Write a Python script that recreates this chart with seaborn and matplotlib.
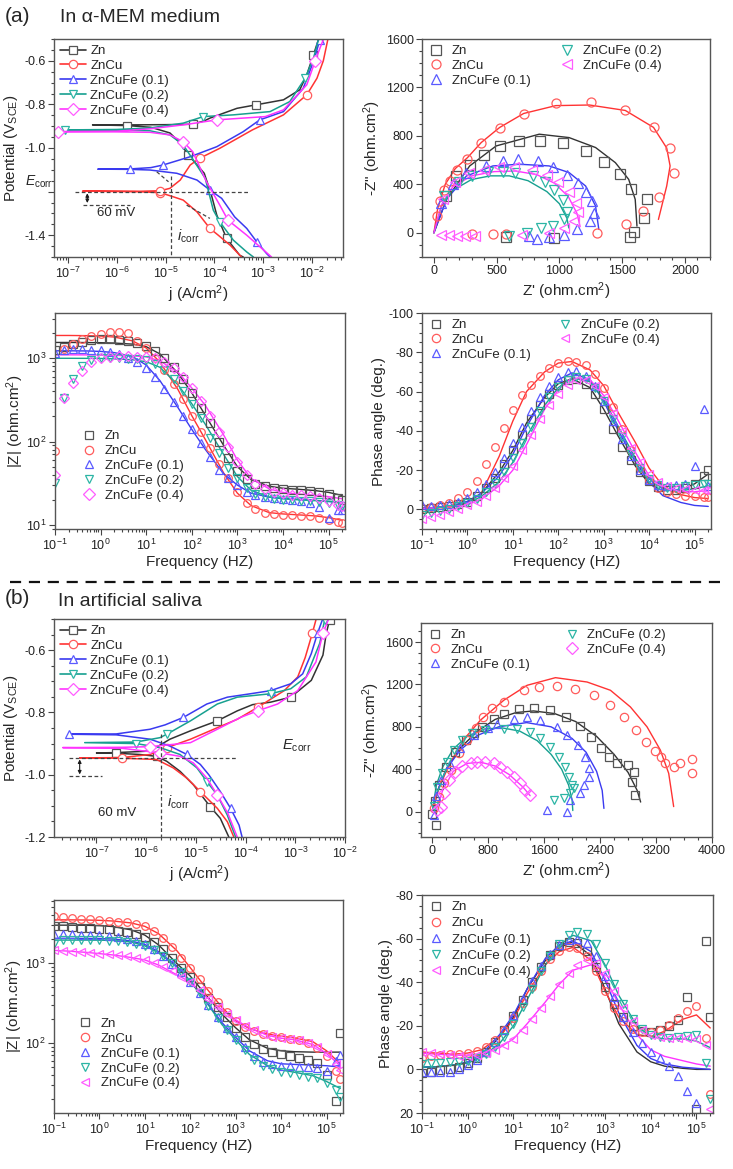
import numpy as np
import pandas as pd
import matplotlib
matplotlib.use("Agg")
import matplotlib.pyplot as plt
from matplotlib.lines import Line2D
from matplotlib.ticker import (LogLocator, MultipleLocator, NullFormatter, FixedLocator,
                               FixedFormatter, LogFormatterSciNotation)
import seaborn as sns

sns.set_theme(style="ticks")
plt.rcParams["font.family"] = ["Liberation Sans", "DejaVu Sans"]
plt.rcParams["mathtext.fontset"] = "custom"
plt.rcParams["mathtext.rm"] = "Liberation Sans"
plt.rcParams["mathtext.it"] = "Liberation Sans:italic"
plt.rcParams["mathtext.default"] = "regular"
plt.rcParams["axes.unicode_minus"] = False

names = ["Zn", "ZnCu", "ZnCuFe (0.1)", "ZnCuFe (0.2)", "ZnCuFe (0.4)"]
line_cols = ["#333333", "#ff3333", "#3a3af0", "#17a090", "#ff33ff"]
mark_cols = ["#555555", "#ff5c5c", "#5a5aff", "#2cb5a5", "#ff5cff"]

# ---------------- polarization, alpha-MEM (j in A/cm2, E in V) ----------------
pa_zn_j = [3.9e-4, 3.3e-4, 1.78e-4, 1.12e-4, 8.7e-5, 6.2e-5, 2.95e-5, 1.82e-5, 1.23e-5, 5e-6, 1.6e-6, 3.2e-7,
           1.6e-6, 1e-5, 3.6e-5, 6.3e-5, 8.1e-5, 2.9e-4, 7.1e-4, 2.6e-3, 5.6e-3, 7.8e-3, 1.07e-2, 1.35e-2]
pa_zn_e = [-1.5, -1.492, -1.415, -1.308, -1.216, -1.116, -1.032, -0.968, -0.931, -0.905, -0.897, -0.894,
           -0.894, -0.893, -0.891, -0.875, -0.863, -0.818, -0.802, -0.779, -0.733, -0.664, -0.572, -0.503]
pa_cu_j = [3.6e-4, 2.1e-4, 1.2e-4, 8.1e-5, 4.4e-5, 2.3e-5, 1.45e-5, 7.8e-6, 2.5e-6, 2e-7,
           2.5e-6, 7.8e-6, 1.23e-5, 2e-5, 3.2e-5, 5e-5, 1.3e-4, 6e-4, 2.6e-3, 7.8e-3, 1.26e-2, 1.7e-2, 2.1e-2]
pa_cu_e = [-1.5, -1.446, -1.40, -1.369, -1.293, -1.239, -1.224, -1.205, -1.2, -1.198,
           -1.199, -1.196, -1.185, -1.147, -1.078, -1.047, -1.001, -0.917, -0.848, -0.756, -0.680, -0.60, -0.503]
pa_f1_j = [1.38e-3, 1.17e-3, 7.4e-4, 4.6e-4, 2.6e-4, 1.41e-4, 8.1e-5, 4.4e-5, 1.7e-5, 4.8e-6, 1.9e-6, 4.1e-7,
           1.9e-6, 5e-6, 8.9e-6, 3.2e-5, 1.12e-4, 3.9e-4, 8.5e-4, 2.6e-3, 6.6e-3, 1.07e-2, 1.45e-2]
pa_f1_e = [-1.5, -1.484, -1.431, -1.369, -1.316, -1.231, -1.193, -1.147, -1.116, -1.101, -1.098, -1.097,
           -1.096, -1.09, -1.078, -1.04, -0.994, -0.925, -0.871, -0.833, -0.726, -0.603, -0.503]
pa_f2_j = [6.3e-4, 4.6e-4, 2.45e-4, 1.29e-4, 9.5e-5, 6.5e-5, 3.7e-5, 2.3e-5, 1.23e-5, 4.8e-6, 1e-6, 8.7e-8,
           1e-6, 4.8e-6, 2.3e-5, 5.9e-5, 2.45e-4, 1.38e-3, 3.5e-3, 7.2e-3, 1.07e-2, 1.35e-2]
pa_f2_e = [-1.5, -1.477, -1.423, -1.339, -1.285, -1.139, -1.055, -0.986, -0.940, -0.921, -0.918, -0.917,
           -0.915, -0.908, -0.886, -0.856, -0.848, -0.833, -0.787, -0.680, -0.588, -0.503]
pa_f4_j = [1.48e-3, 4.6e-4, 1.9e-4, 1.29e-4, 6.9e-5, 3.6e-5, 2.3e-5, 1.23e-5, 4.8e-6, 1e-6, 6.3e-8,
           1e-6, 4.8e-6, 2.3e-5, 1.12e-4, 1.1e-3, 2.6e-3, 7.8e-3, 1.15e-2, 1.45e-2, 1.7e-2]
pa_f4_e = [-1.5, -1.40, -1.331, -1.262, -1.155, -1.017, -0.971, -0.940, -0.928, -0.926, -0.925,
           -0.923, -0.912, -0.894, -0.871, -0.856, -0.825, -0.710, -0.603, -0.542, -0.503]

# ---------------- polarization, artificial saliva ----------------
pb_zn_j = [4.6e-5, 3.1e-5, 1.95e-5, 8.9e-6, 4.8e-6, 2.6e-6, 1.62e-6, 7.4e-7, 2.5e-7, 1e-7,
           2.5e-7, 1.2e-6, 3e-6, 7.8e-6, 2.7e-5, 6.8e-5, 1.38e-4, 3.2e-4, 8.1e-4, 2.1e-3, 3.6e-3, 4.2e-3, 4.9e-3]
pb_zn_e = [-1.2, -1.140, -1.103, -1.032, -0.989, -0.957, -0.941, -0.935, -0.931, -0.930,
           -0.929, -0.924, -0.886, -0.859, -0.827, -0.795, -0.775, -0.767, -0.751, -0.697, -0.616, -0.546, -0.503]
pb_cu_j = [5.8e-5, 4.3e-5, 2.7e-5, 1.23e-5, 6.6e-6, 3.5e-6, 1.62e-6, 3.2e-7, 4.6e-8,
           3.2e-7, 1.2e-6, 2.6e-6, 7.8e-6, 2.7e-5, 6.8e-5, 1.74e-4, 6e-4, 1.12e-3, 1.58e-3, 2.2e-3, 2.6e-3]
pb_cu_e = [-1.2, -1.151, -1.108, -1.054, -1.011, -0.978, -0.951, -0.947, -0.946,
           -0.945, -0.935, -0.913, -0.886, -0.849, -0.822, -0.784, -0.730, -0.686, -0.624, -0.546, -0.503]
pb_f1_j = [8.5e-5, 7.4e-5, 5e-5, 3.1e-5, 1.82e-5, 1.23e-5, 6.6e-6, 3e-6, 1.2e-6, 2.5e-7, 2.8e-8,
           2.5e-7, 1.2e-6, 2.4e-6, 5.6e-6, 1.66e-5, 4.3e-5, 1.26e-4, 3.2e-4, 8.1e-4, 1.41e-3, 2.1e-3, 2.8e-3, 3.5e-3]
pb_f1_e = [-1.2, -1.162, -1.108, -1.054, -1.0, -0.967, -0.935, -0.908, -0.886, -0.872, -0.870,
           -0.869, -0.854, -0.840, -0.816, -0.773, -0.751, -0.740, -0.730, -0.708, -0.676, -0.611, -0.546, -0.503]
pb_f2_j = [6.3e-5, 4.3e-5, 2.7e-5, 1.66e-5, 1.05e-5, 4.8e-6, 1.9e-6, 6.3e-7, 5.8e-8,
           6.3e-7, 1.9e-6, 2.6e-6, 7.8e-6, 2.7e-5, 6.8e-5, 3.2e-4, 8.1e-4, 1.66e-3, 3.1e-3, 3.9e-3]
pb_f2_e = [-1.2, -1.130, -1.065, -1.022, -0.978, -0.935, -0.913, -0.900, -0.897,
           -0.895, -0.881, -0.870, -0.827, -0.773, -0.751, -0.740, -0.724, -0.686, -0.578, -0.503]
pb_f4_j = [6.8e-5, 4.4e-5, 2.7e-5, 1.66e-5, 8.9e-6, 4.8e-6, 1.9e-6, 3.2e-7, 2.1e-8,
           3.2e-7, 1.2e-6, 7.8e-6, 2.7e-5, 7.9e-5, 1.74e-4, 4.4e-4, 1.12e-3, 2.6e-3, 3.6e-3, 4.6e-3]
pb_f4_e = [-1.2, -1.124, -1.065, -1.011, -0.962, -0.941, -0.930, -0.915, -0.913,
           -0.912, -0.910, -0.897, -0.854, -0.816, -0.795, -0.773, -0.730, -0.638, -0.546, -0.503]

# ---------------- Nyquist, alpha-MEM (ohm.cm2) ----------------
na_zn_re = [100, 179, 285, 396, 523, 676, 844, 1032, 1209, 1359, 1486, 1570, 1697, 1671, 1597, 1565, 958, 575]
na_zn_im = [303, 469, 560, 643, 717, 759, 759, 745, 676, 588, 483, 359, 276, 124, 8, -33, -41, -33]
na_cu_re = [21, 48, 80, 127, 180, 267, 377, 523, 715, 971, 1248, 1525, 1750, 1882, 1916, 1797, 1665, 1533, 1296, 575, 470, 303]
na_cu_im = [138, 262, 350, 428, 520, 612, 745, 869, 979, 1070, 1076, 1015, 875, 698, 497, 295, 177, 74, 0, -14, -8, -8]
na_f1_re = [60, 150, 259, 417, 549, 668, 827, 945, 1064, 1148, 1209, 1262, 1272, 1240, 1140, 1040, 920, 820, 760]
na_f1_im = [250, 400, 497, 552, 590, 610, 590, 545, 480, 414, 337, 262, 165, 95, 30, -15, -33, -50, -30]
na_f2_re = [80, 200, 300, 430, 550, 650, 786, 886, 958, 1030, 1064, 1040, 946, 850, 742, 600]
na_f2_im = [300, 420, 470, 500, 505, 497, 470, 420, 350, 270, 170, 110, 55, 40, 0, -25]
na_f4_re = [70, 170, 280, 400, 520, 640, 780, 900, 990, 1080, 1130, 1150, 1120, 1040, 920, 700, 330, 250, 180, 120, 60]
na_f4_im = [280, 420, 490, 520, 540, 540, 520, 480, 420, 340, 250, 170, 100, 40, 0, -20, -30, -30, -25, -20, -15]
# fitted curves
naf_zn_re = [0, 100, 285, 496, 839, 1077, 1288, 1446, 1552, 1604, 1618]
naf_zn_im = [0, 276, 552, 717, 814, 786, 704, 579, 441, 276, 55]
naf_cu_re = [0, 30, 90, 170, 267, 377, 523, 715, 971, 1240, 1525, 1750, 1855, 1882, 1855, 1789]
naf_cu_im = [0, 200, 400, 530, 620, 745, 869, 985, 1050, 1055, 1010, 870, 700, 552, 386, 110]
naf_f1_re = [0, 100, 259, 470, 681, 918, 1077, 1209, 1288, 1314]
naf_f1_im = [0, 276, 469, 552, 566, 552, 497, 386, 221, 28]
naf_f2_re = [0, 60, 150, 300, 450, 600, 750, 900, 1000, 1060, 1075]
naf_f2_im = [0, 220, 350, 440, 470, 470, 430, 340, 240, 120, 40]
naf_f4_re = [0, 60, 150, 300, 480, 650, 820, 960, 1070, 1140, 1165]
naf_f4_im = [0, 230, 380, 470, 505, 510, 480, 410, 300, 160, 50]

# ---------------- Nyquist, artificial saliva ----------------
nb_zn_re = [0, 40, 100, 200, 330, 480, 600, 714, 890, 1024, 1238, 1452, 1690, 1919, 2110, 2276, 2419, 2533, 2643, 2795, 2881, 2857, 2905, 50]
nb_zn_im = [-20, 100, 250, 420, 560, 680, 740, 800, 878, 925, 966, 979, 957, 894, 809, 706, 596, 518, 461, 439, 376, 282, 157, -130]
nb_cu_re = [30, 95, 167, 262, 381, 500, 620, 729, 850, 1024, 1310, 1524, 1786, 2048, 2310, 2548, 2748, 2919, 3057, 3191, 3276, 3333, 3462, 3548, 3714, 3714]
nb_cu_im = [30, 141, 267, 392, 549, 675, 790, 888, 980, 1035, 1145, 1176, 1183, 1161, 1098, 1004, 894, 769, 659, 574, 518, 461, 424, 461, 496, 361]
nb_f1_re = [20, 60, 130, 250, 400, 600, 800, 929, 1167, 1357, 1548, 1786, 1929, 2081, 2190, 2238, 2238, 2167, 2119, 1976, 1929, 1643]
nb_f1_im = [-30, 150, 300, 450, 600, 720, 790, 831, 878, 888, 863, 800, 722, 627, 518, 408, 329, 251, 173, 110, 0, 16]
nb_f2_re = [20, 71, 143, 214, 310, 429, 571, 762, 1024, 1214, 1395, 1548, 1690, 1810, 1905, 1962, 2000, 2024, 1976, 1881, 1738]
nb_f2_im = [50, 235, 361, 470, 580, 674, 737, 769, 784, 784, 753, 690, 612, 518, 424, 329, 251, 220, 173, 125, 110]
nb_f4_re = [71, 119, 167, 238, 333, 429, 548, 643, 762, 881, 976, 1071, 1167, 1262, 1333, 1395]
nb_f4_im = [16, 47, 173, 298, 376, 430, 455, 471, 471, 455, 424, 376, 329, 267, 204, 157]
nbf_zn_re = [0, 80, 200, 400, 650, 900, 1200, 1450, 1750, 2050, 2350, 2600, 2800, 2930, 2980]
nbf_zn_im = [0, 200, 400, 600, 760, 870, 935, 950, 925, 850, 710, 540, 370, 200, 90]
nbf_cu_re = [0, 100, 250, 450, 690, 1024, 1357, 1762, 2214, 2548, 2833, 3071, 3262, 3381, 3452]
nbf_cu_im = [0, 230, 450, 680, 863, 1051, 1192, 1264, 1223, 1145, 988, 800, 580, 361, 47]
nbf_f1_re = [0, 80, 200, 400, 650, 950, 1350, 1700, 2000, 2200, 2350, 2430, 2455]
nbf_f1_im = [0, 200, 400, 580, 720, 800, 840, 800, 690, 560, 380, 200, 30]
nbf_f2_re = [0, 60, 150, 300, 500, 750, 1000, 1250, 1500, 1700, 1850, 1950, 2000, 2010]
nbf_f2_im = [0, 250, 420, 590, 710, 780, 790, 760, 670, 540, 400, 250, 110, 10]
nbf_f4_re = [50, 150, 300, 500, 700, 900, 1100, 1300, 1400]
nbf_f4_im = [0, 200, 380, 455, 465, 430, 350, 230, 150]

# ---------------- Bode data ----------------
freq_pts = [0.1, 0.16, 0.25, 0.4, 0.63, 1, 1.6, 2.5, 4, 6.3, 10, 16, 25, 40, 63, 100, 160, 250, 400, 630,
            1e3, 1.6e3, 2.5e3, 4e3, 6.3e3, 1e4, 1.6e4, 2.5e4, 4e4, 6.3e4, 1e5, 1.6e5, 2e5]
freq_fit = [0.1, 0.2, 0.5, 1, 2, 5, 10, 20, 50, 100, 200, 500, 1e3, 2e3, 5e3, 1e4, 2e4, 5e4, 1e5, 2e5]
freq_ticks = [1e-1, 1e0, 1e1, 1e2, 1e3, 1e4, 1e5]

# |Z| alpha-MEM
za_zn = [1250, 1380, 1500, 1580, 1640, 1690, 1700, 1680, 1620, 1530, 1400, 1230, 1010, 780, 560, 385, 255, 165, 100, 64, 44, 35, 30.5, 29, 28, 27, 26.5, 26, 25.5, 25, 23.5, 21, 20]
za_cu = [76, 1300, 1500, 1700, 1850, 1950, 2050, 2060, 2000, 1600, 1320, 1020, 730, 490, 320, 205, 130, 83, 54, 36, 25, 18.5, 15.5, 14, 13.5, 13.2, 13, 12.8, 12.6, 12.2, 11.5, 10.8, 10.5]
za_f1 = [1170, 1250, 1280, 1280, 1270, 1250, 1200, 1120, 1010, 900, 770, 590, 430, 300, 205, 140, 95, 65, 46, 36, 30, 24.5, 22.5, 21.5, 21, 20.5, 20, 19.5, 18.5, 16.5, 12, 15, 15]
za_f2 = [32, 330, 570, 800, 950, 1000, 1000, 1000, 990, 970, 950, 860, 730, 570, 410, 285, 190, 110, 72, 48, 36, 28, 23.5, 21.5, 20.5, 20, 19.8, 19.5, 19.2, 18.8, 18.3, 17.5, 17]
za_f4 = [40, 337, 510, 700, 900, 1000, 1050, 1060, 1060, 1050, 1050, 1000, 900, 760, 600, 440, 310, 205, 130, 85, 57, 40, 31, 27, 25, 24, 23, 22.5, 22, 21, 19.5, 17.5, 17]
zaf_zn = [1550, 1550, 1545, 1540, 1525, 1480, 1380, 1130, 660, 385, 205, 90, 50, 35, 29, 27.5, 26.8, 25.8, 24.5, 22.5]
zaf_cu = [1880, 1880, 1870, 1850, 1800, 1620, 1330, 900, 420, 205, 105, 42, 24, 17, 14, 13.5, 13.2, 12.8, 12.2, 11.3]
zaf_f1 = [1230, 1230, 1225, 1210, 1170, 1050, 830, 540, 255, 140, 80, 41, 30, 24, 21.5, 20.8, 20.3, 19.7, 19, 18.3]
zaf_f2 = [1000, 1000, 998, 995, 985, 960, 910, 780, 480, 285, 160, 70, 38, 26, 21.5, 20.5, 20, 19.5, 19.2, 18.8]
zaf_f4 = [1100, 1100, 1098, 1095, 1085, 1070, 1040, 930, 680, 440, 270, 120, 60, 36, 27, 24.5, 23.5, 22.6, 21.8, 20.5]

# phase alpha-MEM (deg.)
pha_zn = [0, -0.5, -1, -1.5, -2.5, -4, -7, -11, -16, -23, -30, -38, -46, -53, -59, -63.5, -66, -66.5, -64, -59, -51, -41, -32, -25, -19, -14.5, -11.5, -10, -10, -11, -13, -17, -20]
pha_cu = [-0.5, -1, -2, -3, -6, -9, -14.5, -23, -32, -41.5, -50.5, -58, -63.5, -68, -72, -74.5, -75.5, -75, -73.5, -69, -62, -52, -41, -30, -21, -15, -11, -9, -8, -7, -7, -6.5, -6.5]
pha_f1 = [-2, -1.5, -2, -2.5, -4, -6, -9, -13, -19, -26, -34, -42, -50, -57, -63, -67.5, -70, -70.5, -68, -63, -55, -45, -36, -27, -20, -15, -12.5, -12, -12.5, -13, -22, -51, -12]
pha_f2 = [3, 2, 1, 0, -1.5, -3, -5.5, -9, -13.5, -19, -26, -34, -42, -50, -57, -62.5, -66, -67.5, -66.5, -62, -55, -46, -37, -28, -21, -15.5, -12.5, -11, -11, -12, -12.5, -13, -13]
pha_f4 = [5, 4, 3, 1.5, 0, -2, -4, -7, -11, -16, -22, -30, -38, -46, -53, -59, -63.5, -66, -66, -63, -57, -49, -40, -31, -24, -18, -14, -12, -11, -10.5, -10, -10, -10]
phaf_zn = [-0.5, -1, -2, -4, -8, -19, -30, -44, -57, -64, -66.5, -62, -51, -38, -22, -13, -9.5, -10, -13, -18]
phaf_cu = [-0.5, -1, -2, -3.5, -8, -27, -45, -60, -70, -74.5, -75.3, -71, -63, -50, -34, -21, -12, -7.5, -6, -5.5]
phaf_f1 = [-0.5, -1, -2, -4, -8, -17, -28, -42, -58, -66, -69.5, -66, -55, -41, -24, -14, -7, -3.5, -2, -1.5]
phaf_f2 = [-0.5, -1, -1.8, -3, -6.5, -14, -24, -37, -53, -62, -67, -65, -56, -43, -26, -15.5, -10.5, -9.5, -10.5, -12]
phaf_f4 = [-0.5, -0.8, -1.5, -2.5, -5, -12, -20, -33, -51, -61, -67, -66, -58, -46, -29, -17, -11, -9, -9, -9.5]

# |Z| artificial saliva
zb_zn = [2950, 2900, 2850, 2800, 2750, 2700, 2650, 2550, 2450, 2300, 2150, 1850, 1500, 1150, 870, 680, 500, 370, 280, 210, 155, 118, 96, 84, 77, 72, 68, 65, 61, 56, 40, 19, 134]
zb_cu = [3900, 3850, 3700, 3600, 3550, 3480, 3400, 3330, 3250, 3100, 2900, 2500, 2050, 1600, 1180, 870, 630, 450, 330, 245, 190, 160, 142, 130, 123, 118, 113, 108, 101, 87, 68, 45, 35]
zb_f1 = [2300, 2300, 2300, 2280, 2260, 2250, 2200, 2120, 2000, 1880, 1750, 1500, 1250, 990, 770, 590, 420, 300, 215, 155, 118, 88, 68, 58, 54, 52, 51, 50, 50, 49, 45, 60, 70]
zb_f2 = [1750, 1950, 1950, 1950, 1950, 1940, 1920, 1880, 1820, 1750, 1650, 1450, 1250, 1000, 780, 590, 420, 295, 205, 145, 110, 82, 62, 52, 47, 44, 42, 40, 38, 36, 32, 26, 21]
zb_f4 = [1450, 1430, 1400, 1380, 1350, 1320, 1290, 1260, 1220, 1170, 1100, 1000, 900, 790, 680, 580, 460, 360, 285, 230, 195, 165, 145, 130, 120, 115, 112, 108, 100, 88, 72, 55, 46]
zbf_zn = [3000, 3000, 2990, 2960, 2880, 2620, 2250, 1700, 1000, 690, 430, 230, 155, 110, 86, 80, 78, 77, 77, 77]
zbf_cu = [3500, 3500, 3480, 3450, 3380, 3200, 2900, 2350, 1450, 880, 530, 280, 190, 152, 130, 122, 116, 104, 80, 55]
zbf_f1 = [2050, 2050, 2045, 2040, 2010, 1900, 1720, 1400, 930, 600, 360, 180, 118, 80, 60, 55, 54, 53, 52, 50]
zbf_f2 = [1950, 1950, 1950, 1945, 1930, 1850, 1650, 1350, 900, 590, 360, 170, 110, 72, 52, 46, 43, 39, 33, 27]
zbf_f4 = [1450, 1420, 1370, 1320, 1270, 1180, 1100, 950, 720, 580, 400, 260, 195, 155, 125, 115, 110, 96, 74, 52]

# phase artificial saliva
phb_zn = [1.5, 1, 0.5, 0, -1, -3, -5, -8, -12.5, -18, -24.5, -32, -40, -47, -52.5, -56.5, -58.5, -58, -54.5, -47, -38, -30, -24, -20, -17.5, -17, -18, -20, -22.5, -33, 18, -59, -24]
phb_cu = [-5, -6, -6.5, -7, -7, -7.5, -8.5, -10.5, -13.5, -18, -23.5, -30.5, -38, -45, -50.5, -54.5, -56, -55.5, -52, -45, -36, -28, -22, -18.5, -17, -17, -18, -20.5, -23.5, -27, -29, -14.5, 11.5]
phb_f1 = [1, 1, 1, 1, 0, -2, -4.5, -8, -12.5, -18, -25, -32.5, -40.5, -47.5, -53, -57, -59.5, -60, -58, -52, -43, -33, -24, -17, -12, -8, -5, -1.5, 3, 10, 15.5, np.nan, np.nan]
phb_f2 = [-2.5, -3, -3, -3.5, -3.5, -4, -5, -7, -10.5, -15, -21, -28.5, -37, -45, -52, -57.5, -61.5, -63, -62, -57.5, -49, -39, -30, -23, -18.5, -16, -15, -14.5, -15, -15.5, -16, -3, 13.8]
phb_f4 = [-8, -7.5, -7, -6.5, -6, -6, -6.5, -7.5, -9, -11, -14, -18, -23, -28, -33.5, -39, -44, -48, -50, -49, -44, -36, -28, -22, -18, -16, -15, -14.5, -14.5, -14.5, -14, -11, 18]
phbf_zn = [-1, -1.2, -2, -3, -6, -15, -24, -37, -50, -56, -58.5, -52, -37, -21, -8, -3.5, -1.5, -0.5, 0, 0]
phbf_cu = [-8, -7.5, -7, -7.5, -9, -15, -23, -35, -48, -54, -56, -50, -36, -24, -16, -15, -17.5, -23, -25, -19]
phbf_f1 = [-1, -1.2, -2, -3.5, -7, -16, -25, -37, -51, -57, -59, -54, -41, -26, -11, -5, -2.5, -1, -0.5, 0]
phbf_f2 = [-1, -1.2, -2, -3, -5.5, -12, -20, -32, -48, -57, -61.5, -59, -48, -34, -20, -15, -14, -14, -13, -10]
phbf_f4 = [-7.5, -7, -6.5, -6.5, -7, -10, -14, -21, -31, -39, -45.5, -48, -42, -30, -16, -9, -6, -4, -2.5, -1.5]


def fig_rect(l, r, t, b):
    W, H = 733.0, 1169.0
    return [l / W, 1 - b / H, (r - l) / W, (b - t) / H]


def style(ax):
    for s in ax.spines.values():
        s.set_color("#555555")
        s.set_linewidth(1.0)
    ax.tick_params(which="both", direction="out", color="#444444", labelcolor="#222222",
                   labelsize=9, width=0.8, top=False, right=False, pad=2)
    ax.tick_params(which="major", length=4)
    ax.tick_params(which="minor", length=2)


def log_x(ax, ticks):
    ax.set_xscale("log")
    ax.xaxis.set_major_locator(FixedLocator(ticks))
    ax.xaxis.set_major_formatter(LogFormatterSciNotation())
    ax.xaxis.set_minor_locator(LogLocator(base=10, subs=np.arange(2, 10), numticks=20))
    ax.xaxis.set_minor_formatter(NullFormatter())


def log_y(ax, ticks):
    ax.set_yscale("log")
    ax.yaxis.set_major_locator(FixedLocator(ticks))
    ax.yaxis.set_major_formatter(LogFormatterSciNotation())
    ax.yaxis.set_minor_locator(LogLocator(base=10, subs=np.arange(2, 10), numticks=20))
    ax.yaxis.set_minor_formatter(NullFormatter())


def draw_fit(ax, x, y, c, lw=1.0):
    d = pd.DataFrame({"x": x, "y": y})
    sns.lineplot(data=d, x="x", y="y", ax=ax, color=c, linewidth=lw, sort=False, estimator=None)


def draw_pts(ax, x, y, c, m, ms):
    d = pd.DataFrame({"x": x, "y": y}).dropna()
    sns.lineplot(data=d, x="x", y="y", ax=ax, color=c, marker=m, linestyle="", markersize=ms,
                 markerfacecolor="none", markeredgecolor=c, markeredgewidth=0.9,
                 sort=False, estimator=None)


def handles(markers, with_line, ms):
    out = []
    for i in range(5):
        out.append(Line2D([], [], color=line_cols[i] if with_line else mark_cols[i],
                          linestyle="-" if with_line else "none", linewidth=1.2,
                          marker=markers[i], markersize=ms, markerfacecolor="white" if with_line else "none",
                          markeredgecolor=mark_cols[i], markeredgewidth=0.9))
    return out


def clear_labels(ax):
    ax.set_xlabel("")
    ax.set_ylabel("")


fig = plt.figure(figsize=(7.33, 11.69), dpi=100)
lab_fs = 11

# ======================= (a) polarization =======================
ax = fig.add_axes(fig_rect(54, 343, 39, 257))
pol_a = [(pa_zn_j, pa_zn_e), (pa_cu_j, pa_cu_e), (pa_f1_j, pa_f1_e), (pa_f2_j, pa_f2_e), (pa_f4_j, pa_f4_e)]
mk_pol = ["s", "o", "^", "v", "D"]
for i, (jj, ee) in enumerate(pol_a):
    d = pd.DataFrame({"j": jj, "E": ee})
    sns.lineplot(data=d, x="j", y="E", ax=ax, color=line_cols[i], linewidth=1.1, sort=False,
                 estimator=None, marker=mk_pol[i], markersize=6, markevery=(2 + i % 2, 4),
                 markerfacecolor="white", markeredgecolor=mark_cols[i], markeredgewidth=0.9)
dash_kw = dict(color="#444444", linestyle=(0, (3, 2)), linewidth=0.9)
ax.plot([1.4e-7, 5.4e-4], [-1.2, -1.2], **dash_kw)
ax.plot([1.3e-5, 1.3e-5], [-1.13, -1.5], **dash_kw)
ax.plot([2.0e-7, 1.9e-6], [-1.26, -1.26], **dash_kw)
ax.plot([6.6e-6, 1.15e-5], [-1.109, -1.155], **dash_kw)
ax.plot([2.7e-5, 8.1e-5], [-1.262, -1.323], **dash_kw)
ax.annotate("", xy=(2.5e-7, -1.265), xytext=(2.5e-7, -1.195),
            arrowprops=dict(arrowstyle="<|-|>", color="k", lw=0.8, mutation_scale=5))
log_x(ax, [1e-7, 1e-6, 1e-5, 1e-4, 1e-3, 1e-2])
ax.set_xlim(5.2e-8, 4.3e-2)
ax.set_ylim(-1.5, -0.5)
ax.yaxis.set_major_locator(FixedLocator([-1.4, -1.2, -1.0, -0.8, -0.6]))
ax.yaxis.set_major_formatter(FixedFormatter(["-1.4", "", "-1.0", "-0.8", "-0.6"]))
ax.yaxis.set_minor_locator(MultipleLocator(0.05))
style(ax)
clear_labels(ax)
ax.set_xlabel("j (A/cm$^2$)", fontsize=lab_fs, labelpad=2)
ax.set_ylabel("Potential (V$_{SCE}$)", fontsize=lab_fs)
ax.yaxis.set_label_coords(-0.118, 0.5)
ax.text(-0.1, 0.345, "$\\it{E}$$_{corr}$", transform=ax.transAxes, fontsize=10, va="center", ha="left")
ax.text(0.148, 0.2, "60 mV", transform=ax.transAxes, fontsize=9.5, va="center", ha="left")
ax.text(0.425, 0.095, "$\\it{i}$$_{corr}$", transform=ax.transAxes, fontsize=10.5, va="center", ha="left")
ax.legend(handles(mk_pol, True, 6), names, loc="upper left", frameon=False, fontsize=9.5,
          handlelength=2.0, handletextpad=0.3, labelspacing=0.2, borderaxespad=0.25, borderpad=0.2)

# ======================= (a) Nyquist =======================
ax = fig.add_axes(fig_rect(422, 710, 39, 257))
nyq_a_pts = [(na_zn_re, na_zn_im), (na_cu_re, na_cu_im), (na_f1_re, na_f1_im), (na_f2_re, na_f2_im), (na_f4_re, na_f4_im)]
nyq_a_fit = [(naf_zn_re, naf_zn_im), (naf_cu_re, naf_cu_im), (naf_f1_re, naf_f1_im), (naf_f2_re, naf_f2_im), (naf_f4_re, naf_f4_im)]
mk_a_nyq = ["s", "o", "^", "v", "<"]
for i in range(5):
    draw_fit(ax, *nyq_a_fit[i], line_cols[i])
for i in range(5):
    draw_pts(ax, *nyq_a_pts[i], mark_cols[i], mk_a_nyq[i], 6.5)
ax.set_xlim(-95, 2200)
ax.set_ylim(-200, 1600)
ax.xaxis.set_major_locator(MultipleLocator(500))
ax.xaxis.set_minor_locator(MultipleLocator(100))
ax.yaxis.set_major_locator(MultipleLocator(400))
ax.yaxis.set_minor_locator(MultipleLocator(100))
style(ax)
clear_labels(ax)
ax.set_xlabel("Z' (ohm.cm$^2$)", fontsize=lab_fs, labelpad=2)
ax.set_ylabel("-Z\" (ohm.cm$^2$)", fontsize=lab_fs, labelpad=2)
ax.legend(handles(mk_a_nyq, False, 6.5), names, loc="upper left", ncol=2, frameon=False, fontsize=9.5,
          handlelength=1.2, handletextpad=0.6, labelspacing=0.2, columnspacing=2.2,
          borderaxespad=0.25, borderpad=0.2)

# ======================= (a) |Z| =======================
ax = fig.add_axes(fig_rect(55, 345, 313, 529))
za_pts = [za_zn, za_cu, za_f1, za_f2, za_f4]
za_fit = [zaf_zn, zaf_cu, zaf_f1, zaf_f2, zaf_f4]
mk_a_mod = ["s", "o", "^", "v", "D"]
for i in range(5):
    draw_fit(ax, freq_fit, za_fit[i], line_cols[i])
for i in range(5):
    draw_pts(ax, freq_pts, za_pts[i], mark_cols[i], mk_a_mod[i], 5.5)
log_x(ax, freq_ticks)
log_y(ax, [1e1, 1e2, 1e3])
ax.set_xlim(0.1, 2.3e5)
ax.set_ylim(8.9, 3500)
style(ax)
clear_labels(ax)
ax.set_xlabel("Frequency (HZ)", fontsize=lab_fs, labelpad=2)
ax.set_ylabel("|Z| (ohm.cm$^2$)", fontsize=lab_fs)
ax.yaxis.set_label_coords(-0.1, 0.5)
ax.legend(handles(mk_a_mod, False, 6), names, loc="upper left", bbox_to_anchor=(0.08, 0.47),
          frameon=False, fontsize=9.5, handlelength=1.2, handletextpad=0.6, labelspacing=0.2,
          borderaxespad=0, borderpad=0.2)

# ======================= (a) phase =======================
ax = fig.add_axes(fig_rect(422, 711, 313, 529))
pha_pts = [pha_zn, pha_cu, pha_f1, pha_f2, pha_f4]
pha_fit = [phaf_zn, phaf_cu, phaf_f1, phaf_f2, phaf_f4]
mk_a_ph = ["s", "o", "^", "v", "<"]
for i in range(5):
    draw_fit(ax, freq_fit, pha_fit[i], line_cols[i])
for i in range(5):
    draw_pts(ax, freq_pts, pha_pts[i], mark_cols[i], mk_a_ph[i], 5.5)
log_x(ax, freq_ticks)
ax.set_xlim(0.1, 2.3e5)
ax.set_ylim(10, -100)
ax.yaxis.set_major_locator(MultipleLocator(20))
ax.yaxis.set_minor_locator(MultipleLocator(5))
style(ax)
clear_labels(ax)
ax.set_xlabel("Frequency (HZ)", fontsize=lab_fs, labelpad=2)
ax.set_ylabel("Phase angle (deg.)", fontsize=lab_fs, labelpad=2)
ax.legend(handles(mk_a_ph, False, 6), names, loc="upper left", ncol=2, frameon=False, fontsize=9.5,
          handlelength=1.2, handletextpad=0.6, labelspacing=0.2, columnspacing=2.0,
          borderaxespad=0.25, borderpad=0.2)

# ======================= (b) polarization =======================
ax = fig.add_axes(fig_rect(54, 345, 619, 837))
pol_b = [(pb_zn_j, pb_zn_e), (pb_cu_j, pb_cu_e), (pb_f1_j, pb_f1_e), (pb_f2_j, pb_f2_e), (pb_f4_j, pb_f4_e)]
for i, (jj, ee) in enumerate(pol_b):
    d = pd.DataFrame({"j": jj, "E": ee})
    sns.lineplot(data=d, x="j", y="E", ax=ax, color=line_cols[i], linewidth=1.1, sort=False,
                 estimator=None, marker=mk_pol[i], markersize=6, markevery=(2 + i % 2, 4),
                 markerfacecolor="white", markeredgecolor=mark_cols[i], markeredgewidth=0.9)
ax.plot([2.8e-8, 6.8e-5], [-0.945, -0.945], **dash_kw)
ax.plot([1.95e-6, 1.95e-6], [-0.87, -1.2], **dash_kw)
ax.plot([2.8e-8, 1.3e-7], [-1.005, -1.005], **dash_kw)
ax.annotate("", xy=(4.6e-8, -1.008), xytext=(4.6e-8, -0.942),
            arrowprops=dict(arrowstyle="<|-|>", color="k", lw=0.8, mutation_scale=5))
log_x(ax, [1e-7, 1e-6, 1e-5, 1e-4, 1e-3, 1e-2])
ax.set_xlim(1.4e-8, 1e-2)
ax.set_ylim(-1.2, -0.5)
ax.yaxis.set_major_locator(FixedLocator([-1.2, -1.0, -0.8, -0.6]))
ax.yaxis.set_major_formatter(FixedFormatter(["-1.2", "-1.0", "-0.8", "-0.6"]))
ax.yaxis.set_minor_locator(MultipleLocator(0.05))
style(ax)
clear_labels(ax)
ax.set_xlabel("j (A/cm$^2$)", fontsize=lab_fs, labelpad=2)
ax.set_ylabel("Potential (V$_{SCE}$)", fontsize=lab_fs)
ax.yaxis.set_label_coords(-0.118, 0.5)
ax.text(0.785, 0.42, "$\\it{E}$$_{corr}$", transform=ax.transAxes, fontsize=10.5, va="center", ha="left")
ax.text(0.15, 0.11, "60 mV", transform=ax.transAxes, fontsize=9.5, va="center", ha="left")
ax.text(0.39, 0.16, "$\\it{i}$$_{corr}$", transform=ax.transAxes, fontsize=10.5, va="center", ha="left")
ax.legend(handles(mk_pol, True, 6), names, loc="upper left", frameon=False, fontsize=9.5,
          handlelength=2.0, handletextpad=0.3, labelspacing=0.2, borderaxespad=0.25, borderpad=0.2)

# ======================= (b) Nyquist =======================
ax = fig.add_axes(fig_rect(421, 712, 623, 837))
nyq_b_pts = [(nb_zn_re, nb_zn_im), (nb_cu_re, nb_cu_im), (nb_f1_re, nb_f1_im), (nb_f2_re, nb_f2_im), (nb_f4_re, nb_f4_im)]
nyq_b_fit = [(nbf_zn_re, nbf_zn_im), (nbf_cu_re, nbf_cu_im), (nbf_f1_re, nbf_f1_im), (nbf_f2_re, nbf_f2_im), (nbf_f4_re, nbf_f4_im)]
mk_b_nyq = ["s", "o", "^", "v", "D"]
for i in range(5):
    draw_fit(ax, *nyq_b_fit[i], line_cols[i])
for i in range(5):
    draw_pts(ax, *nyq_b_pts[i], mark_cols[i], mk_b_nyq[i], 6)
ax.set_xlim(-160, 4000)
ax.set_ylim(-240, 1780)
ax.xaxis.set_major_locator(MultipleLocator(800))
ax.xaxis.set_minor_locator(MultipleLocator(200))
ax.yaxis.set_major_locator(MultipleLocator(400))
ax.yaxis.set_minor_locator(MultipleLocator(100))
style(ax)
clear_labels(ax)
ax.set_xlabel("Z' (ohm.cm$^2$)", fontsize=lab_fs, labelpad=2)
ax.set_ylabel("-Z\" (ohm.cm$^2$)", fontsize=lab_fs, labelpad=2)
ax.legend(handles(mk_b_nyq, False, 6), names, loc="upper left", ncol=2, frameon=False, fontsize=9.5,
          handlelength=1.2, handletextpad=0.6, labelspacing=0.2, columnspacing=2.6,
          borderaxespad=0.25, borderpad=0.2)

# ======================= (b) |Z| =======================
ax = fig.add_axes(fig_rect(54, 343, 900, 1113))
zb_pts = [zb_zn, zb_cu, zb_f1, zb_f2, zb_f4]
zb_fit = [zbf_zn, zbf_cu, zbf_f1, zbf_f2, zbf_f4]
mk_b_mod = ["s", "o", "^", "v", "<"]
for i in range(5):
    draw_fit(ax, freq_fit, zb_fit[i], line_cols[i])
for i in range(5):
    draw_pts(ax, freq_pts, zb_pts[i], mark_cols[i], mk_b_mod[i], 5.5)
log_x(ax, freq_ticks)
log_y(ax, [1e2, 1e3])
ax.set_xlim(0.1, 2.3e5)
ax.set_ylim(13.3, 6200)
style(ax)
clear_labels(ax)
ax.set_xlabel("Frequency (HZ)", fontsize=lab_fs, labelpad=2)
ax.set_ylabel("|Z| (ohm.cm$^2$)", fontsize=lab_fs)
ax.yaxis.set_label_coords(-0.1, 0.5)
ax.legend(handles(mk_b_mod, False, 6), names, loc="upper left", bbox_to_anchor=(0.07, 0.46),
          frameon=False, fontsize=9.5, handlelength=1.2, handletextpad=0.6, labelspacing=0.2,
          borderaxespad=0, borderpad=0.2)

# ======================= (b) phase =======================
ax = fig.add_axes(fig_rect(422, 713, 895, 1113))
phb_pts = [phb_zn, phb_cu, phb_f1, phb_f2, phb_f4]
phb_fit = [phbf_zn, phbf_cu, phbf_f1, phbf_f2, phbf_f4]
for i in range(5):
    draw_fit(ax, freq_fit, phb_fit[i], line_cols[i])
for i in range(5):
    draw_pts(ax, freq_pts, phb_pts[i], mark_cols[i], mk_b_mod[i], 5.5)
log_x(ax, freq_ticks)
ax.set_xlim(0.1, 2.3e5)
ax.set_ylim(20, -80)
ax.yaxis.set_major_locator(MultipleLocator(20))
ax.yaxis.set_minor_locator(MultipleLocator(5))
style(ax)
clear_labels(ax)
ax.set_xlabel("Frequency (HZ)", fontsize=lab_fs, labelpad=2)
ax.set_ylabel("Phase angle (deg.)", fontsize=lab_fs, labelpad=2)
ax.legend(handles(mk_b_mod, False, 6), names, loc="upper left", frameon=False, fontsize=9.5,
          handlelength=1.2, handletextpad=0.6, labelspacing=0.3, borderaxespad=0.25, borderpad=0.2)

# ======================= headers and separator =======================
fig.text(5 / 733, 1 - 16 / 1169, "(a)", fontsize=15, va="center", ha="left")
fig.text(60 / 733, 1 - 17 / 1169, "In \u03b1-MEM medium", fontsize=14, va="center", ha="left")
fig.text(5 / 733, 1 - 598 / 1169, "(b)", fontsize=15, va="center", ha="left")
fig.text(58 / 733, 1 - 601 / 1169, "In artificial saliva", fontsize=14, va="center", ha="left")
fig.add_artist(Line2D([10 / 733, 725 / 733], [1 - 582 / 1169, 1 - 582 / 1169], transform=fig.transFigure,
                      color="#111111", linewidth=1.6, linestyle=(0, (5, 3.5))))

fig.savefig("out.png", dpi=100)
